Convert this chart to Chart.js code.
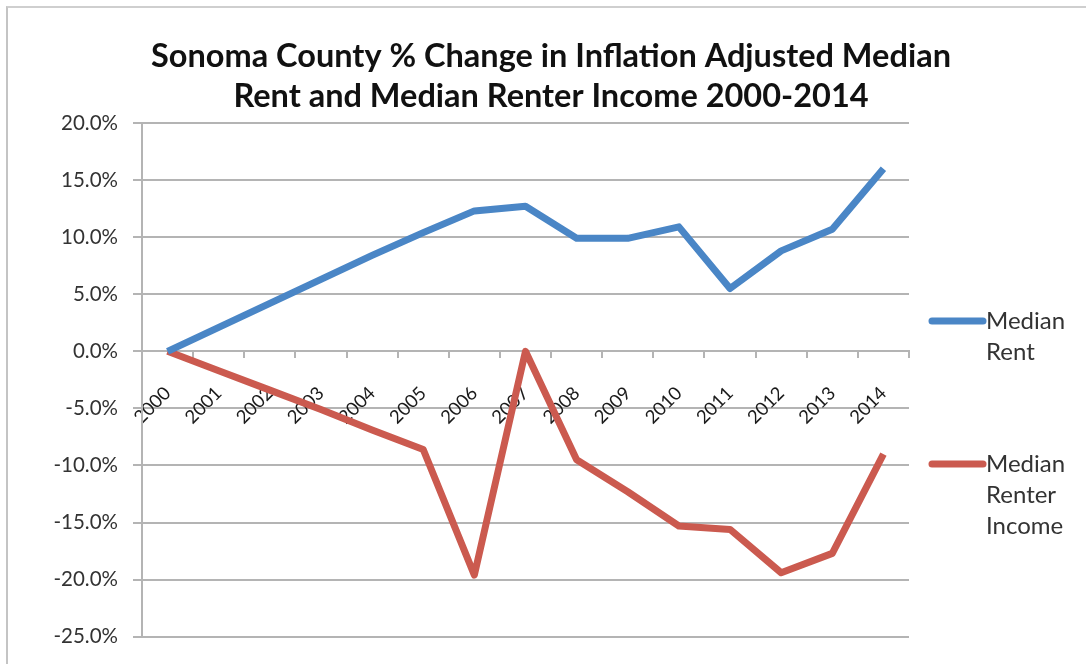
<!DOCTYPE html>
<html>
<head>
<meta charset="utf-8">
<script src="https://cdn.jsdelivr.net/npm/chart.js@4.4.1/dist/chart.umd.min.js"></script>
<style>
  html, body { margin: 0; padding: 0; background: #fff; }
  #frame { position: absolute; left: 6px; top: 6px; width: 1100px; height: 700px;
           border-left: 2px solid #c4c4c4; border-top: 2px solid #cfcfcf; }
  #wrap { position: absolute; left: 0; top: 0; width: 1086px; height: 664px; }
</style>
</head>
<body>
<div id="frame"></div>
<div id="wrap"><canvas id="SonomaRentStats"></canvas></div>
<script>
//
// Data
var years = ['2000', '2001', '2002', '2003', '2004', '2005', '2006', '2007',
             '2008', '2009', '2010', '2011', '2012', '2013', '2014'];
var median_rent = [0, 2.1, 4.2, 6.3, 8.4, 10.4, 12.3, 12.7, 9.9, 9.9, 10.9, 5.5, 8.8, 10.7, 16.0];
var median_renter_income = [0, -1.7, -3.4, -5.1, -6.9, -8.6, -19.6, 0, -9.5, -12.3, -15.3, -15.6, -19.4, -17.7, -9.0];
var series_labels = [['Median', 'Rent'], ['Median', 'Renter', 'Income']];
var series_colors = ['#4a86c6', '#cb5a4f'];
var title_lines = ['Sonoma County % Change in Inflation Adjusted Median',
                   'Rent and Median Renter Income 2000-2014'];

var grid_color = '#b4b4b4';
var text_color = '#333333';

//
// Title, centred on the whole picture
var topTitle = {
    id: 'topTitle',
    afterDraw: function(chart) {
        var ctx = chart.ctx;
        ctx.save();
        ctx.fillStyle = '#111';
        ctx.font = 'bold 32.5px Lato';
        ctx.textAlign = 'center';
        ctx.textBaseline = 'middle';
        ctx.fillText(title_lines[0], 551, 57);
        ctx.fillText(title_lines[1], 551, 97);
        ctx.restore();
    }
};

//
// Legend drawn at the right, with wrapped labels
var sideLegend = {
    id: 'sideLegend',
    afterDraw: function(chart) {
        var ctx = chart.ctx;
        var rows = [321, 464];
        ctx.save();
        chart.data.datasets.forEach(function(ds, i) {
            var y = rows[i];
            ctx.strokeStyle = ds.borderColor;
            ctx.lineWidth = 7;
            ctx.lineCap = 'round';
            ctx.beginPath();
            ctx.moveTo(932, y);
            ctx.lineTo(983, y);
            ctx.stroke();
            ctx.fillStyle = text_color;
            ctx.font = '24px Lato';
            ctx.textBaseline = 'middle';
            ctx.textAlign = 'left';
            series_labels[i].forEach(function(t, j) {
                ctx.fillText(t, 986, y + j * 31);
            });
        });
        ctx.restore();
    }
};

var ctx = document.getElementById('SonomaRentStats').getContext('2d');
new Chart(ctx, {
    type: 'line',
    data: {
        labels: years,
        datasets: [{
            label: 'Median Rent',
            data: median_rent,
            borderColor: series_colors[0],
            backgroundColor: series_colors[0]
        }, {
            label: 'Median Renter Income',
            data: median_renter_income,
            borderColor: series_colors[1],
            backgroundColor: series_colors[1]
        }]
    },
    options: {
        responsive: true,
        maintainAspectRatio: false,
        animation: false,
        layout: {
            padding: { left: 0, right: 177, top: 123, bottom: 12 }
        },
        elements: {
            line: { borderWidth: 7, tension: 0, borderJoinStyle: 'round', borderCapStyle: 'butt' },
            point: { radius: 0, hoverRadius: 0 }
        },
        scales: {
            x: {
                type: 'category',
                position: { y: 0 },
                offset: true,
                grid: {
                    offset: true,
                    drawOnChartArea: false,
                    drawTicks: true,
                    tickLength: 6,
                    color: grid_color,
                    lineWidth: 2
                },
                border: { color: grid_color, width: 2 },
                ticks: {
                    autoSkip: false,
                    minRotation: 45,
                    maxRotation: 45,
                    padding: 25,
                    color: '#1a1a1a',
                    font: { family: 'Lato', size: 18.5 }
                },
                afterFit: function(scale) { scale.height = 0; }
            },
            y: {
                min: -25,
                max: 20,
                grid: {
                    color: grid_color,
                    lineWidth: 2,
                    tickLength: 9
                },
                border: { color: grid_color, width: 2 },
                ticks: {
                    stepSize: 5,
                    padding: 15,
                    color: text_color,
                    font: { family: 'Lato', size: 20.5 },
                    callback: function(v) { return v.toFixed(1) + '%'; }
                },
                afterFit: function(scale) { scale.width = 142; }
            }
        },
        plugins: {
            legend: { display: false },
            tooltip: { enabled: false },
            title: { display: false }
        }
    },
    plugins: [topTitle, sideLegend]
});
</script>
</body>
</html>
